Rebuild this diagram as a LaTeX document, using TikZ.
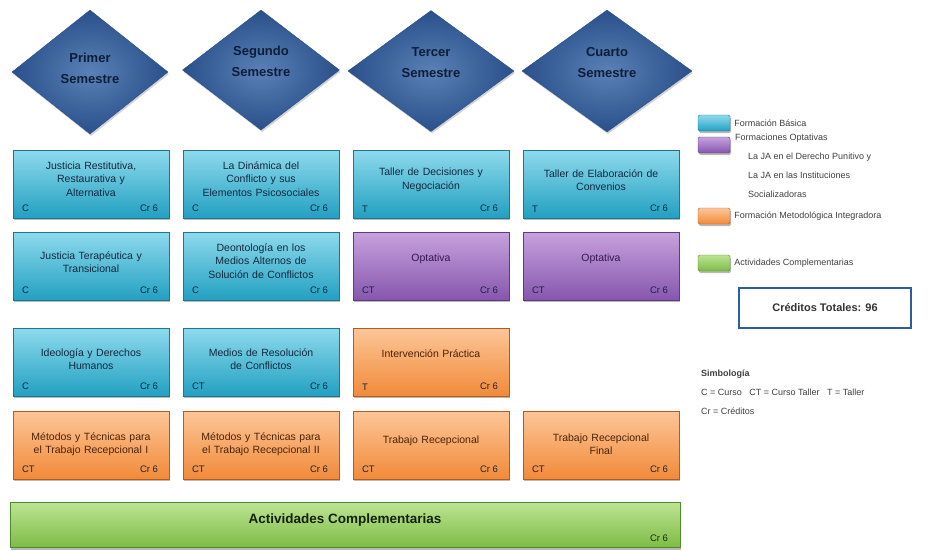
\documentclass[tikz,border=0pt]{standalone}
\usepackage{fontspec}
\setmainfont{Liberation Sans}
\usepackage{xcolor}
\usetikzlibrary{shapes.geometric, shadows, positioning, calc}

\definecolor{semazul}{HTML}{3D6BAA}
\definecolor{semoscuro}{HTML}{2A4F8A}
\definecolor{semtexto}{HTML}{0E1D38}
\definecolor{basarriba}{HTML}{8EDAEC}
\definecolor{basabajo}{HTML}{22A0C2}
\definecolor{basborde}{HTML}{1C7890}
\definecolor{basletra}{HTML}{13283F}
\definecolor{optarriba}{HTML}{C7A2DD}
\definecolor{optabajo}{HTML}{8656AE}
\definecolor{optborde}{HTML}{5E3A80}
\definecolor{optletra}{HTML}{35184F}
\definecolor{metarriba}{HTML}{FCC698}
\definecolor{metabajo}{HTML}{F28A3A}
\definecolor{metborde}{HTML}{B85A1C}
\definecolor{metletra}{HTML}{4A2208}
\definecolor{comarriba}{HTML}{BDE393}
\definecolor{comabajo}{HTML}{7DBC45}
\definecolor{comborde}{HTML}{4F8A2A}
\definecolor{totborde}{HTML}{2B5E9E}

\tikzset{
  semestre/.style={diamond, inner sep=0pt, draw=semoscuro, shading=radial,
    inner color=semazul!85!white, outer color=semoscuro,
    drop shadow={shadow xshift=1pt, shadow yshift=-2pt, opacity=.35}},
  semtxt/.style={font=\fontsize{13}{21}\selectfont\bfseries, align=center, text=semtexto},
  materia/.style={rectangle, inner sep=0pt, minimum width=156pt, minimum height=68pt,
    drop shadow={shadow xshift=1pt, shadow yshift=-2pt, opacity=.55}},
  basica/.style={materia, draw=basborde, top color=basarriba, bottom color=basabajo},
  optativa/.style={materia, draw=optborde, top color=optarriba, bottom color=optabajo},
  metodo/.style={materia, draw=metborde, top color=metarriba, bottom color=metabajo},
  complem/.style={materia, draw=comborde, top color=comarriba, bottom color=comabajo},
  mtxt/.style={font=\fontsize{10.5}{13.5}\selectfont, align=center, text width=152pt, text=basletra},
  tag/.style={font=\fontsize{9.5}{11}\selectfont, inner sep=0pt, text=basletra},
  leyenda/.style={font=\fontsize{9}{19}\selectfont, text=black!75, inner sep=0pt},
  muestra/.style={minimum width=32pt, minimum height=16pt, rounded corners=1.5pt}
}

\begin{document}
\begin{tikzpicture}[x=1pt,y=-1pt]
  \useasboundingbox[fill=white] (0,0) rectangle (935,550);

  % semestres
  \node[semestre, minimum width=156pt, minimum height=124pt] (s1) at (90,72) {};
  \node[semestre, minimum width=157pt, minimum height=120pt] (s2) at (261,70) {};
  \node[semestre, minimum width=166pt, minimum height=121pt] (s3) at (431,71) {};
  \node[semestre, minimum width=170pt, minimum height=122pt] (s4) at (607,71) {};
  \node[semtxt] (s1t) at ([yshift=4pt]s1.center) {Primer\\Semestre};
  \node[semtxt] (s2t) at ([yshift=9pt]s2.center) {Segundo\\Semestre};
  \node[semtxt] (s3t) at ([yshift=8pt]s3.center) {Tercer\\Semestre};
  \node[semtxt] (s4t) at ([yshift=8pt]s4.center) {Cuarto\\Semestre};

  % fila 1
  \node[basica] (b11) at (91,184) {};
  \node[basica] (b12) at (261,184) {};
  \node[basica] (b13) at (431,184) {};
  \node[basica] (b14) at (601,184) {};
  \node[mtxt] at ([yshift=5pt]b11.center) {Justicia Restitutiva,\\Restaurativa y\\Alternativa};
  \node[mtxt] at ([yshift=5pt]b12.center) {La Dinámica del\\Conflicto y sus\\Elementos Psicosociales};
  \node[mtxt] at ([yshift=4pt]b13.center) {Taller de Decisiones y\\Negociación};
  \node[mtxt] at ([yshift=4pt]b14.center) {Taller de Elaboración de\\Convenios};

  % fila 2
  \node[basica] (b21) at (91,266) {};
  \node[basica] (b22) at (261,266) {};
  \node[optativa] (b23) at (431,266) {};
  \node[optativa] (b24) at (601,266) {};
  \node[mtxt] at ([yshift=4pt]b21.center) {Justicia Terapéutica y\\Transicional};
  \node[mtxt] at ([yshift=5pt]b22.center) {Deontología en los\\Medios Alternos de\\Solución de Conflictos};
  \node[mtxt, text=optletra] at ([yshift=7pt]b23.center) {Optativa};
  \node[mtxt, text=optletra] at ([yshift=7pt]b24.center) {Optativa};

  % fila 3
  \node[basica] (b31) at (91,362) {};
  \node[basica] (b32) at (261,362) {};
  \node[metodo] (b33) at (431,362) {};
  \node[mtxt] at ([yshift=3pt]b31.center) {Ideología y Derechos\\Humanos};
  \node[mtxt] at ([yshift=3pt]b32.center) {Medios de Resolución\\de Conflictos};
  \node[mtxt, text=metletra] at ([yshift=8pt]b33.center) {Intervención Práctica};

  % fila 4
  \node[metodo] (b41) at (91,445) {};
  \node[metodo] (b42) at (261,445) {};
  \node[metodo] (b43) at (431,445) {};
  \node[metodo] (b44) at (601,445) {};
  \node[mtxt, text=metletra] at ([yshift=1pt]b41.center) {Métodos y Técnicas para\\el Trabajo Recepcional I};
  \node[mtxt, text=metletra] at ([yshift=1pt]b42.center) {Métodos y Técnicas para\\el Trabajo Recepcional II};
  \node[mtxt, text=metletra] at ([yshift=4pt]b43.center) {Trabajo Recepcional};
  \node[mtxt, text=metletra] at ([yshift=1pt]b44.center) {Trabajo Recepcional\\Final};

  % tipo y creditos
  \foreach \b/\t in {b11/C, b12/C, b13/T, b14/T, b21/C, b22/C, b23/CT, b24/CT,
                     b31/C, b32/CT, b33/T, b41/CT, b42/CT, b43/CT, b44/CT} {
    \node[tag, anchor=south west] (\b c) at ([xshift=9pt,yshift=6pt]\b.south west) {\t};
    \node[tag, anchor=south east] (\b r) at ([xshift=-11pt,yshift=6pt]\b.south east) {Cr 6};
  }

  % actividades complementarias
  \node[complem, minimum width=670pt, minimum height=45pt] (ac) at (345,525) {};
  \node[font=\fontsize{13.5}{15}\selectfont\bfseries, text=comborde!25!black] at ([yshift=5pt]ac.center) {Actividades Complementarias};
  \node[tag, anchor=south east, text=comborde!30!black] (acr) at ([xshift=-12pt,yshift=6pt]ac.south east) {Cr 6};

  % leyenda
  \node[basica, muestra] (lb) at (714,123) {};
  \node[optativa, muestra] (lo) at (714,145) {};
  \node[metodo, muestra] (lm) at (714,216) {};
  \node[complem, muestra] (lc) at (714,263) {};
  \node[leyenda, right=4pt of lb] (lbt) {Formación Básica};
  \node[leyenda, anchor=west] (lot) at (735,138) {Formaciones Optativas};
  \node[leyenda, anchor=north west, align=left] (lol) at (748,153)
    {La JA en el Derecho Punitivo y\\La JA en las Instituciones\\Socializadoras};
  \node[leyenda, right=4pt of lm] (lmt) {Formación Metodológica Integradora};
  \node[leyenda, right=4pt of lc] (lct) {Actividades Complementarias};

  \node[draw=totborde, line width=2.5pt, fill=white, minimum width=172pt, minimum height=40pt,
    font=\fontsize{11}{13}\selectfont\bfseries, text=black!80] (ct) at (825,308) {Créditos Totales: 96};

  \node[leyenda, anchor=north west, align=left] (simb) at (701,370)
    {\textbf{Simbología}\\C = Curso~~ CT = Curso Taller~~ T = Taller\\Cr = Créditos};
\end{tikzpicture}
\end{document}
